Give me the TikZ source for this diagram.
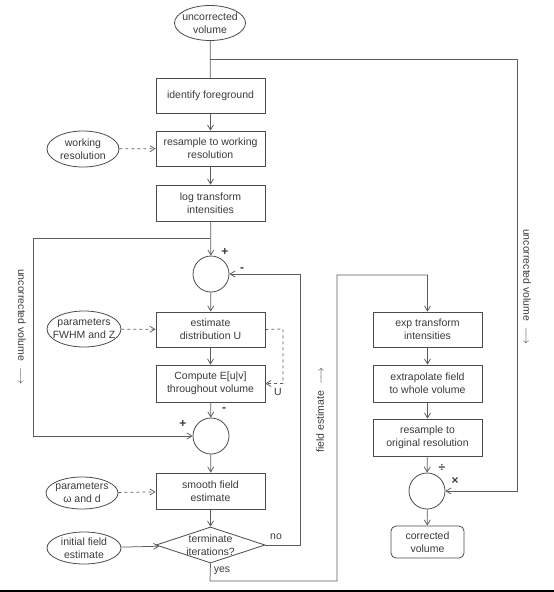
\documentclass[tikz,border=0pt]{standalone}
\usepackage{fontspec}
\setmainfont{Liberation Sans}
\usetikzlibrary{arrows.meta,shapes.geometric}
\definecolor{ink}{HTML}{3A3A3A}
\definecolor{frame}{HTML}{4A4A4A}
\definecolor{wire}{HTML}{5C5C5C}
\tikzset{
  stepbox/.style={draw=frame,line width=0.8pt,rectangle,minimum width=109pt,minimum height=35pt,align=center,inner sep=1pt},
  datum/.style={draw=frame,line width=0.8pt,ellipse,minimum width=72pt,minimum height=36pt,align=center,inner sep=-10pt},
  junction/.style={draw=frame,line width=0.8pt,circle,minimum size=36pt,inner sep=0pt},
  flow/.style={wire,line width=0.75pt,-{Straight Barb[length=5pt,width=6pt]}},
  param/.style={flow,dashed},
  sign/.style={font=\bfseries\fontsize{12}{12}\selectfont,text=ink,inner sep=0pt}
}
\begin{document}
\begin{tikzpicture}[x=1pt,y=-1pt,text=ink,font=\fontsize{10.5}{13}\selectfont]
\useasboundingbox (0,0) rectangle (554,592);
% main column
\node[datum,minimum width=71pt,minimum height=35pt] (uncorr) at (210,23) {uncorrected\\volume};
\node[stepbox] (fgnd) at (210.5,95.5) {identify foreground};
\node[stepbox] (workres) at (210.5,148.5) {resample to working\\resolution};
\node[stepbox,minimum height=36pt] (logint) at (210.5,203) {log transform\\intensities};
\node[junction] (sub) at (211,274) {};
\node[stepbox] (estU) at (210.5,329.5) {estimate\\distribution U};
\node[stepbox,minimum height=37pt] (expect) at (210.5,383.5) {Compute E[u|v]\\throughout volume};
\node[junction] (add) at (211,436) {};
\node[stepbox,minimum height=36pt] (smooth) at (210.5,491) {smooth field\\estimate};
\node[draw=frame,line width=0.8pt,diamond,minimum width=109pt,minimum height=36pt,inner xsep=-12pt,inner ysep=-9pt,align=center] (term) at (210.5,545) {terminate\\iterations?};
% inputs on the left
\node[datum] (wres) at (83,149) {working\\resolution};
\node[datum,minimum width=74pt] (fwhm) at (84,329) {parameters\\FWHM and Z};
\node[datum,minimum height=32pt] (omd) at (82,493) {parameters\\ω and d};
\node[datum,minimum width=74pt,minimum height=32pt] (init) at (84,548) {initial field\\estimate};
% right column
\node[stepbox] (expint) at (427.5,329.5) {exp transform\\intensities};
\node[stepbox,minimum height=37pt] (extrap) at (427.5,383.5) {extrapolate field\\to whole volume};
\node[stepbox,minimum height=37pt] (origres) at (427.5,437.5) {resample to\\original resolution};
\node[junction] (mul) at (427,491) {};
\node[draw=frame,line width=0.8pt,rounded corners=5pt,minimum width=73pt,minimum height=32pt,align=center] (corr) at (427.5,542) {corrected\\volume};
% bends
\coordinate (split) at (210,59);
\coordinate (rtop) at (517,59);
\coordinate (lsplit) at (210,238);
\coordinate (ltop) at (33,238);
\coordinate (ubend) at (283,329);
\coordinate (nobend) at (300,545);
\coordinate (yesbot) at (210,581);
\coordinate (yesbend) at (337,581);
\coordinate (fldtop) at (337,275);
\coordinate (exptop) at (427.5,275);
% connectors
\draw[wire,line width=0.75pt] (uncorr) -- (fgnd);
\draw[flow] (split) -- (rtop) |- (mul.east);
\draw[flow] (fgnd) -- (workres);
\draw[flow] (workres) -- (logint);
\draw[flow] (logint) -- (sub);
\draw[flow] (lsplit) -- (ltop) |- (add.west);
\draw[flow] (sub) -- (estU);
\draw[flow] (estU) -- (expect);
\draw[flow] (expect) -- (add);
\draw[flow] (add) -- (smooth);
\draw[flow] (smooth) -- (term);
\draw[flow] (init) -- (term);
\draw[flow] (term.east) -- (nobend) |- (sub.east);
\draw[flow] (term.south) -- (yesbot) -- (yesbend) -- (fldtop) -- (exptop) -- (expint);
\draw[flow] (expint) -- (extrap);
\draw[flow] (extrap) -- (origres);
\draw[flow] (origres) -- (mul);
\draw[flow] (mul) -- (corr);
\draw[param] (wres) -- (workres);
\draw[param] (fwhm) -- (estU);
\draw[param] (omd) -- (smooth);
\draw[param] (estU.east) -- (ubend) |- (expect.east);
% labels
\node[sign] at (225,252) {+};
\node[sign] at (242,270) {-};
\node[sign] at (224,410) {-};
\node[sign] at (183,424) {+};
\node[sign] at (442,468) {÷};
\node[sign] at (455,481) {×};
\node at (278,392) {U};
\node at (276,537) {no};
\node at (222,571) {yes};
\node[rotate=-90] at (22,327) {uncorrected volume~~$\longrightarrow$};
\node[rotate=-90] at (527,287) {uncorrected volume~~$\longrightarrow$};
\node[rotate=90] at (320,410) {field estimate~~$\longrightarrow$};
\draw[black,line width=2pt] (0,591) -- (554,591);
\end{tikzpicture}
\end{document}
